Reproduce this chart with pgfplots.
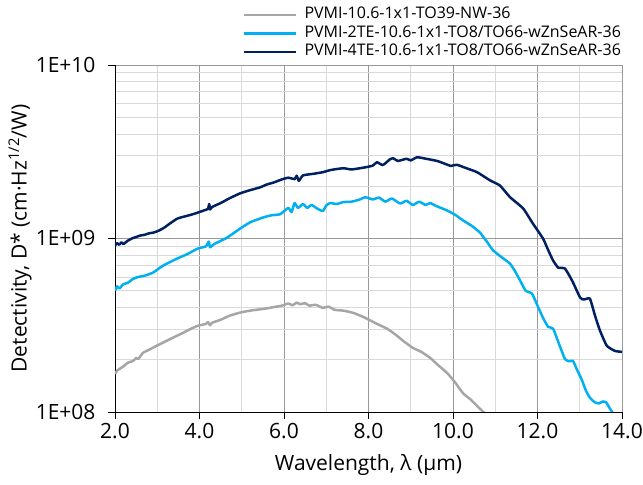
\documentclass[border=0pt]{standalone}
\usepackage{fontspec}
\setmainfont{Open Sans}
\usepackage{pgfplots}
\pgfplotsset{compat=1.18}
\definecolor{cgray}{HTML}{A6A6A6}
\definecolor{cblue}{HTML}{00B0F0}
\definecolor{cnavy}{HTML}{002060}
\definecolor{gmaj}{HTML}{999999}
\definecolor{gmin}{HTML}{D9D9D9}
\begin{document}
\begin{tikzpicture}
\begin{axis}[
  at={(0bp,0bp)}, anchor=south west,
  scale only axis,
  width=507bp, height=347bp,
  xmin=2, xmax=14,
  ymode=log, ymin=1e8, ymax=1e10,
  axis x line=bottom, axis y line=left,
  axis line style={-, black, line width=0.9pt},
  xtick={2,4,...,14},
  minor xtick={3,5,...,13},
  ytick={1e8,1e9,1e10},
  yticklabels={1E+08,1E+09,1E+10},
  xticklabel={\pgfmathprintnumber[fixed,fixed zerofill,precision=1]{\tick}},
  /pgf/number format/assume math mode=true,
  tick align=outside,
  major tick length=7bp,
  minor tick length=0pt,
  tick style={black, line width=0.9pt},
  grid=both,
  major grid style={gmaj, line width=0.9pt},
  minor grid style={gmin, line width=0.9pt},
  ticklabel style={font=\fontsize{21bp}{24bp}\selectfont},
  yticklabel style={xshift=-9bp},
  xticklabel style={yshift=-1bp},
  label style={font=\fontsize{21bp}{24bp}\selectfont},
  xlabel={Wavelength, λ (μm)},
  ylabel={Detectivity, D* (cm·Hz\textsuperscript{1/2}/W)},
  xlabel style={at={(axis description cs:0.5,-0.1527)}, anchor=center},
  ylabel style={at={(axis description cs:-0.1874,0.5)}, anchor=center},
  legend cell align=left,
  legend style={at={(axis description cs:0.2525,1.1708)}, anchor=north west, draw=none, fill=none,
    inner sep=0pt, outer sep=0pt,
    font=\fontsize{16bp}{18bp}\selectfont, row sep=0pt, column sep=7bp,
    nodes={inner xsep=0pt, inner ysep=1bp, text height=12bp, text depth=4.5bp}},
  legend image code/.code={\draw[#1] (0bp,0bp) -- (52bp,0bp);},
  every axis plot/.append style={line width=2.5bp, line join=round, smooth, tension=0.3},
]
\addplot[cgray] coordinates {
(2.00,1.66e8)(2.06,1.74e8)(2.12,1.78e8)(2.20,1.83e8)(2.30,1.92e8)(2.43,1.97e8)(2.50,2.05e8)(2.55,2.02e8)(2.66,2.19e8)(2.80,2.28e8)(2.99,2.41e8)(3.15,2.52e8)(3.37,2.68e8)(3.60,2.85e8)(3.80,3.02e8)(3.96,3.14e8)(4.15,3.22e8)(4.20,3.30e8)(4.25,3.16e8)(4.30,3.27e8)(4.50,3.40e8)(4.70,3.58e8)(4.96,3.74e8)(5.20,3.84e8)(5.55,3.94e8)(5.75,4.02e8)(5.95,4.10e8)(6.10,4.22e8)(6.20,4.12e8)(6.30,4.27e8)(6.38,4.18e8)(6.50,4.24e8)(6.60,4.10e8)(6.75,4.15e8)(6.92,3.98e8)(7.05,4.05e8)(7.20,3.88e8)(7.40,3.84e8)(7.65,3.72e8)(7.92,3.49e8)(8.20,3.22e8)(8.44,3.02e8)(8.65,2.78e8)(8.82,2.57e8)(9.05,2.34e8)(9.25,2.22e8)(9.46,2.05e8)(9.65,1.86e8)(9.86,1.68e8)(10.05,1.48e8)(10.24,1.28e8)(10.40,1.19e8)(10.59,1.07e8)(10.78,0.97e8)
};
\addlegendentry{PVMI-10.6-1x1-TO39-NW-36}
\addplot[cblue] coordinates {
(2.00,5.0e8)(2.05,5.3e8)(2.10,5.15e8)(2.20,5.45e8)(2.30,5.55e8)(2.43,5.85e8)(2.55,6.0e8)(2.70,6.1e8)(2.90,6.36e8)(3.14,6.98e8)(3.47,7.66e8)(3.70,8.1e8)(3.96,8.75e8)(4.15,9.0e8)(4.22,9.6e8)(4.25,8.9e8)(4.35,9.3e8)(4.65,1.01e9)(4.96,1.14e9)(5.20,1.24e9)(5.50,1.32e9)(5.70,1.36e9)(5.91,1.38e9)(6.10,1.50e9)(6.18,1.42e9)(6.25,1.60e9)(6.33,1.50e9)(6.45,1.58e9)(6.55,1.50e9)(6.65,1.56e9)(6.80,1.48e9)(6.92,1.44e9)(7.00,1.55e9)(7.09,1.60e9)(7.25,1.58e9)(7.40,1.62e9)(7.60,1.63e9)(7.80,1.68e9)(7.92,1.73e9)(8.10,1.68e9)(8.25,1.72e9)(8.40,1.63e9)(8.55,1.70e9)(8.75,1.59e9)(8.90,1.65e9)(9.05,1.56e9)(9.20,1.63e9)(9.35,1.56e9)(9.46,1.60e9)(9.60,1.54e9)(9.86,1.45e9)(10.05,1.37e9)(10.24,1.27e9)(10.45,1.18e9)(10.64,1.08e9)(10.80,9.6e8)(10.95,8.53e8)(11.15,7.8e8)(11.35,7.16e8)(11.48,6.4e8)(11.59,5.71e8)(11.72,5.0e8)(11.87,4.81e8)(12.0,4.1e8)(12.13,3.49e8)(12.25,3.1e8)(12.37,3.02e8)(12.50,2.5e8)(12.65,2.02e8)(12.75,1.96e8)(12.84,1.97e8)(12.95,1.72e8)(13.05,1.53e8)(13.15,1.32e8)(13.25,1.20e8)(13.35,1.14e8)(13.45,1.12e8)(13.55,1.15e8)(13.62,1.14e8)(13.70,1.06e8)(13.80,0.97e8)
};
\addlegendentry{PVMI-2TE-10.6-1x1-TO8/TO66-wZnSeAR-36}
\addplot[cnavy] coordinates {
(2.00,9.1e8)(2.05,9.4e8)(2.10,9.2e8)(2.15,9.5e8)(2.20,9.3e8)(2.30,9.7e8)(2.40,1.00e9)(2.50,1.02e9)(2.60,1.04e9)(2.70,1.05e9)(2.80,1.07e9)(2.90,1.08e9)(3.00,1.10e9)(3.10,1.13e9)(3.20,1.17e9)(3.30,1.22e9)(3.47,1.30e9)(3.60,1.33e9)(3.80,1.37e9)(3.96,1.41e9)(4.10,1.45e9)(4.20,1.48e9)(4.23,1.58e9)(4.25,1.47e9)(4.30,1.52e9)(4.50,1.60e9)(4.70,1.70e9)(4.96,1.82e9)(5.20,1.90e9)(5.43,1.97e9)(5.60,2.05e9)(5.75,2.10e9)(5.95,2.19e9)(6.10,2.24e9)(6.25,2.20e9)(6.30,2.30e9)(6.35,2.15e9)(6.45,2.31e9)(6.70,2.36e9)(6.92,2.41e9)(7.10,2.48e9)(7.40,2.54e9)(7.60,2.50e9)(7.92,2.57e9)(8.10,2.63e9)(8.20,2.75e9)(8.34,2.65e9)(8.50,2.85e9)(8.58,2.90e9)(8.70,2.80e9)(8.90,2.88e9)(9.00,2.82e9)(9.15,2.94e9)(9.30,2.90e9)(9.62,2.80e9)(9.80,2.70e9)(9.95,2.62e9)(10.09,2.66e9)(10.3,2.55e9)(10.57,2.41e9)(10.88,2.16e9)(11.11,2.02e9)(11.35,1.73e9)(11.66,1.49e9)(11.89,1.22e9)(12.13,1.00e9)(12.25,8.6e8)(12.37,7.46e8)(12.49,6.79e8)(12.65,6.71e8)(12.82,5.71e8)(13.01,4.56e8)(13.10,4.45e8)(13.24,4.50e8)(13.36,3.6e8)(13.48,2.94e8)(13.64,2.41e8)(13.83,2.25e8)(14.0,2.22e8)
};
\addlegendentry{PVMI-4TE-10.6-1x1-TO8/TO66-wZnSeAR-36}
\end{axis}
\pgfresetboundingbox
\path (-115bp,-73bp) rectangle (528bp,412bp);
\end{tikzpicture}
\end{document}
